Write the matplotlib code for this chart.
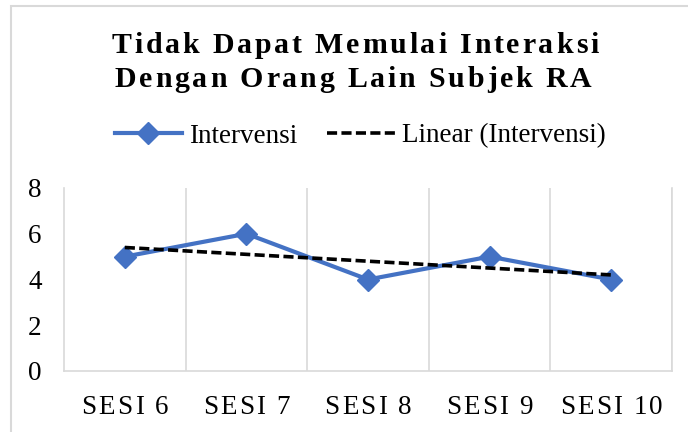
import numpy as np
import matplotlib
matplotlib.use("Agg")
import matplotlib.pyplot as plt
from matplotlib.font_manager import FontProperties
from matplotlib.patches import Rectangle

plt.rcParams['font.family'] = ['Liberation Serif', 'DejaVu Serif']

categories = ["SESI 6", "SESI 7", "SESI 8", "SESI 9", "SESI 10"]
intervensi = [5, 6, 4, 5, 4]
title_lines = ["Tidak Dapat Memulai Interaksi", "Dengan Orang Lain Subjek RA"]

BLUE = "#4472C4"
GRID = "#D9D9D9"

W, H = 688, 432
fig = plt.figure(figsize=(W / 100, H / 100), dpi=100)
ax = fig.add_axes([64 / W, 1 - 371 / H, (672 - 64) / W, (371 - 188) / H])

x = np.arange(len(categories))
ax.plot(x, intervensi, color=BLUE, lw=3, marker='D', markersize=11,
        label="Intervensi", zorder=3)

# excel-style linear trendline
k, b = np.polyfit(x + 1, intervensi, 1)
trend = k * (x + 1) + b
ax.plot(x, trend, color="black", lw=2.6, dashes=(2.8, 1.2),
        label="Linear (Intervensi)", zorder=4)

ax.set_xlim(-0.5, len(categories) - 0.5)
ax.set_ylim(0, 8)
ax.set_yticks([0, 2, 4, 6, 8])
ax.set_xticks([])
for xb in np.arange(0.5, len(categories), 1.0):
    ax.axvline(xb, color=GRID, lw=1.2, zorder=1)
ax.spines["top"].set_visible(False)
for s in ["left", "bottom", "right"]:
    ax.spines[s].set_color(GRID)
    ax.spines[s].set_linewidth(1.2)
ax.tick_params(axis='y', length=0, pad=16, labelsize=19.5)

fig.canvas.draw()
renderer = fig.canvas.get_renderer()


def char_w(c, fp):
    w1, _, _ = renderer.get_text_width_height_descent("x" + c + "x", fp, ismath=False)
    w0, _, _ = renderer.get_text_width_height_descent("xx", fp, ismath=False)
    return w1 - w0


def spaced(text, cx, y, fp, gap):
    ws = [char_w(c, fp) for c in text]
    total = sum(ws) + gap * (len(text) - 1)
    px = cx - total / 2
    for c, w in zip(text, ws):
        fig.text(px / W, 1 - y / H, c, fontproperties=fp, ha='left', va='baseline')
        px += w + gap


title_fp = FontProperties(family='Liberation Serif', weight='bold', size=21.5)
spaced(title_lines[0], 355, 53, title_fp, 2.8)
spaced(title_lines[1], 353, 87, title_fp, 2.8)

tick_fp = FontProperties(family='Liberation Serif', size=19.5)
for i, lab in enumerate(categories):
    cx = 64 + (i + 0.5) * (672 - 64) / len(categories)
    spaced(lab, cx, 414, tick_fp, 2.2)

fig.legend(loc='center', bbox_to_anchor=(360 / W, 1 - 136 / H), ncol=2,
           frameon=False, fontsize=19.5, handlelength=2.5, handletextpad=0.25,
           columnspacing=1.1, borderpad=0)

fig.patches.append(Rectangle((11 / W, -0.1), 1.2, 1 - 6 / H + 0.1, transform=fig.transFigure,
                             fill=False, edgecolor=GRID, lw=1.5))

fig.savefig("out.png", dpi=100)
